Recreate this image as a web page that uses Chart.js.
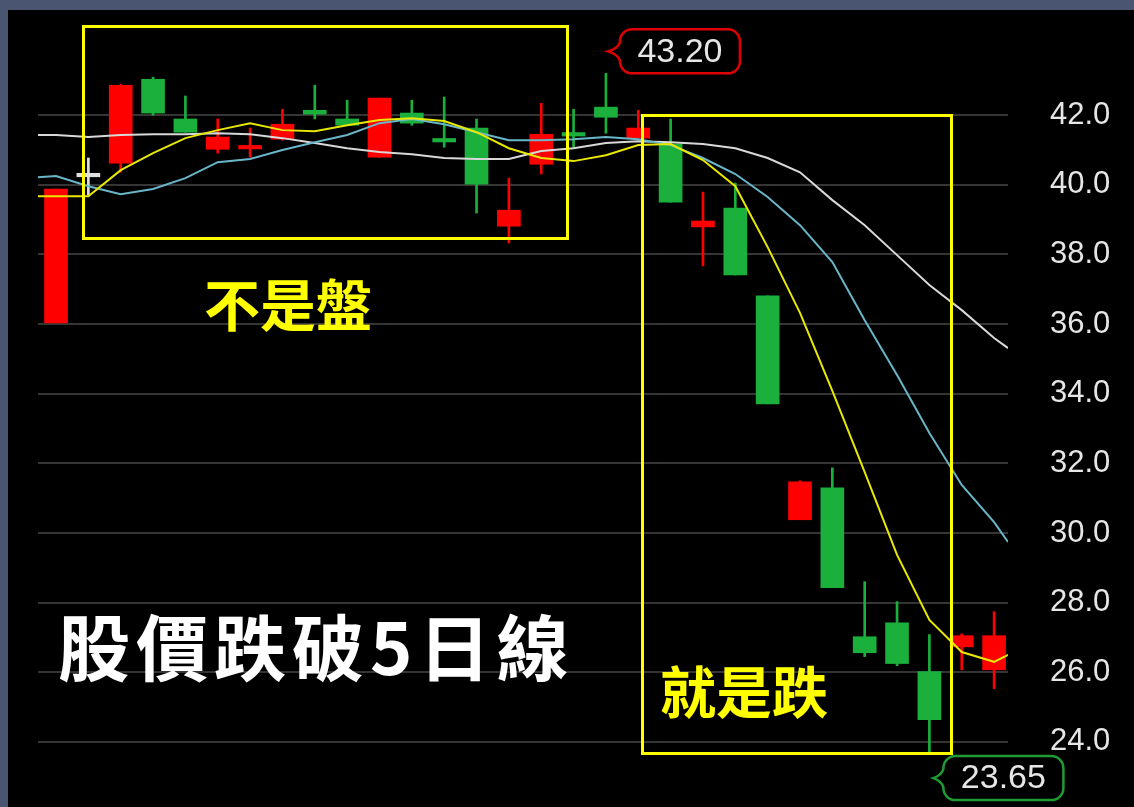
<!DOCTYPE html>
<html>
<head>
<meta charset="utf-8">
<script src="https://cdn.jsdelivr.net/npm/chart.js@4.4.1/dist/chart.umd.min.js"></script>
<style>
  html, body { margin: 0; padding: 0; background: #4a5671; }
  #wrap { position: absolute; left: 0; top: 0; width: 1134px; height: 807px; }
</style>
</head>
<body>
<div id="wrap"><canvas id="myChart"></canvas></div>
<script>
// daily candles, red = up, green = down (Taiwan colours)
const open  = [36.03, 40.28, 40.62, 43.03, 41.89, 41.02, 41.06, 41.31, 42.14, 41.89, 40.79, 42.06, 41.30, 41.63, 38.81, 40.59, 41.47, 42.23, 41.34, 41.17, 38.79, 39.33, 36.81, 30.38, 31.30, 27.02, 27.42, 26.02, 26.73, 26.07];
const close = [39.88, 40.28, 42.86, 42.06, 41.51, 41.37, 41.10, 41.74, 42.03, 41.71, 42.49, 41.77, 41.26, 40.02, 39.27, 41.45, 41.43, 41.94, 41.63, 39.50, 38.96, 37.41, 33.71, 31.47, 28.43, 26.56, 26.25, 24.64, 27.05, 27.05];
const high  = [39.88, 40.77, 42.89, 43.09, 42.55, 41.89, 41.63, 42.17, 42.86, 42.43, 42.49, 42.43, 42.52, 41.89, 40.19, 42.34, 42.17, 43.20, 42.14, 41.89, 39.79, 40.05, 36.81, 31.50, 31.87, 28.60, 28.03, 27.08, 27.10, 27.74];
const low   = [36.03, 39.70, 40.36, 42.00, 41.51, 40.91, 40.79, 41.28, 41.89, 41.71, 40.79, 41.71, 41.08, 39.19, 38.33, 40.31, 41.05, 41.48, 41.34, 39.50, 37.67, 37.41, 33.71, 30.38, 28.43, 26.45, 26.19, 23.65, 26.07, 25.53];

// moving averages, read at left edge, each candle, right edge
const ma5  = [39.67, 39.67, 39.67, 40.42, 40.91, 41.34, 41.57, 41.77, 41.57, 41.54, 41.71, 41.86, 41.91, 41.83, 41.51, 41.05, 40.77, 40.68, 40.85, 41.14, 41.17, 40.71, 39.96, 38.21, 36.32, 34.08, 31.75, 29.37, 27.50, 26.58, 26.30, 26.50];
const ma10 = [40.22, 40.25, 39.96, 39.73, 39.88, 40.19, 40.65, 40.74, 41.00, 41.22, 41.43, 41.77, 41.89, 41.74, 41.51, 41.28, 41.28, 41.31, 41.37, 41.31, 41.14, 40.77, 40.31, 39.65, 38.84, 37.78, 36.11, 34.54, 32.87, 31.38, 30.31, 29.74];
const ma20 = [41.43, 41.43, 41.37, 41.43, 41.45, 41.45, 41.48, 41.45, 41.34, 41.20, 41.05, 40.94, 40.88, 40.77, 40.74, 40.74, 40.97, 41.05, 41.20, 41.25, 41.22, 41.17, 41.05, 40.77, 40.36, 39.56, 38.84, 37.98, 37.12, 36.40, 35.60, 35.31];

const yTicks = [24, 26, 28, 30, 32, 34, 36, 38, 40, 42];
const xMin = -0.557, xMax = 29.43;
const yMin = 22.13, yMax = 45.02;

const days = open.map((v, i) => i);
const lineX = [xMin].concat(days, [xMax]);

const RED = "#ff0000", GREEN = "#1bb03c", WHITE = "#e0e0e0";
const candleColor = days.map(i => close[i] > open[i] ? RED : (close[i] < open[i] ? GREEN : WHITE));

// bodies: keep dojis visible as a thin bar
const bodies = days.map(i => {
  let a = Math.min(open[i], close[i]), b = Math.max(open[i], close[i]);
  if (b - a < 0.1) { const m = (a + b) / 2; a = m - 0.05; b = m + 0.05; }
  return { x: i, y: [a, b] };
});
const wicks = days.map(i => ({ x: i, y: [low[i], high[i]] }));

function maLine(arr, color, order) {
  return {
    type: "line",
    data: arr.map((v, i) => ({ x: lineX[i], y: v })),
    borderColor: color,
    borderWidth: 2,
    pointRadius: 0,
    tension: 0,
    order: order,
  };
}

function callout(ctx, tipX, tipY, bx, by, w, h, color, text) {
  const r = 12;
  ctx.save();
  ctx.beginPath();
  ctx.moveTo(bx + r, by);
  ctx.lineTo(bx + w - r, by);
  ctx.arcTo(bx + w, by, bx + w, by + r, r);
  ctx.lineTo(bx + w, by + h - r);
  ctx.arcTo(bx + w, by + h, bx + w - r, by + h, r);
  ctx.lineTo(bx + r, by + h);
  ctx.arcTo(bx, by + h, bx, by + h - r, r);
  ctx.lineTo(bx, tipY + 9);
  ctx.quadraticCurveTo(bx - 2, tipY + 3, tipX, tipY);
  ctx.quadraticCurveTo(bx - 2, tipY - 3, bx, tipY - 9);
  ctx.lineTo(bx, by + r);
  ctx.arcTo(bx, by, bx + r, by, r);
  ctx.closePath();
  ctx.fillStyle = "#000";
  ctx.fill();
  ctx.lineWidth = 2.5;
  ctx.strokeStyle = color;
  ctx.stroke();
  ctx.fillStyle = "#e6e6e6";
  ctx.font = '34px "Liberation Sans", Arial, sans-serif';
  ctx.textAlign = "center";
  ctx.textBaseline = "middle";
  ctx.fillText(text, bx + w / 2, by + h / 2 + 1);
  ctx.restore();
}

const decor = {
  id: "decor",
  beforeDraw(chart) {
    const ctx = chart.ctx;
    ctx.save();
    ctx.fillStyle = "#4a5671";
    ctx.fillRect(0, 0, chart.width, chart.height);
    ctx.fillStyle = "#000";
    ctx.fillRect(8, 10, chart.width - 8, chart.height - 10);
    ctx.restore();
  },
  afterDraw(chart) {
    const ctx = chart.ctx;
    const xs = chart.scales.x, ys = chart.scales.y;
    ctx.save();
    // yellow boxes
    ctx.strokeStyle = "#ffff00";
    ctx.lineWidth = 3;
    ctx.strokeRect(83.5, 26.5, 484, 212);
    ctx.strokeRect(642.5, 115.5, 309, 638);
    // texts
    ctx.textBaseline = "middle";
    ctx.textAlign = "left";
    ctx.fillStyle = "#ffff00";
    ctx.font = 'bold 56px "Noto Sans CJK TC", sans-serif';
    ctx.fillText("不是盤", 204, 305);
    ctx.fillText("就是跌", 660, 692);
    ctx.fillStyle = "#ffffff";
    ctx.font = 'bold 72px "Noto Sans CJK TC", sans-serif';
    ctx.letterSpacing = "6px";
    ctx.fillText("股價跌破5日線", 58, 648);
    ctx.letterSpacing = "0px";
    ctx.restore();

    // max / min callouts, anchored on the candles
    const hi = high.indexOf(Math.max(...high));
    const lo = low.indexOf(Math.min(...low));
    const hx = xs.getPixelForValue(hi), hy = ys.getPixelForValue(high[hi]);
    callout(ctx, hx + 2, hy - 22, hx + 14, hy - 44, 120, 44, "#e00000", high[hi].toFixed(2));
    const lx = xs.getPixelForValue(lo), ly = ys.getPixelForValue(low[lo]);
    callout(ctx, lx + 4, ly + 24, lx + 14, ly + 2, 120, 44, "#1f9a35", low[lo].toFixed(2));
  },
};

var ctx = document.getElementById("myChart");
var myChart = new Chart(ctx, {
  type: "bar",
  data: {
    datasets: [
      maLine(ma5, "#e8e800", 0),
      maLine(ma10, "#68b6c8", 0),
      maLine(ma20, "#d8d8d8", 0),
      {
        type: "bar",
        data: bodies,
        backgroundColor: candleColor,
        borderWidth: 0,
        barThickness: 23,
        grouped: false,
        order: 1,
      },
      {
        type: "bar",
        data: wicks,
        backgroundColor: candleColor,
        borderWidth: 0,
        barThickness: 2,
        grouped: false,
        order: 2,
      },
    ],
  },
  options: {
    responsive: true,
    maintainAspectRatio: false,
    animation: false,
    layout: { padding: { left: 38, top: 10, right: 0, bottom: 0 } },
    plugins: { legend: { display: false }, tooltip: { enabled: false } },
    scales: {
      x: {
        type: "linear",
        min: xMin,
        max: xMax,
        offset: false,
        display: false,
      },
      y: {
        position: "right",
        min: yMin,
        max: yMax,
        border: { display: false },
        grid: { color: "#353535", lineWidth: 2, drawTicks: false },
        afterBuildTicks: (scale) => { scale.ticks = yTicks.map(v => ({ value: v })); },
        afterFit: (scale) => {
          scale.width = 126;
          scale.paddingTop = 0;
          scale.paddingBottom = 0;
        },
        ticks: {
          padding: 42,
          color: "#e6e6e6",
          font: { family: '"Liberation Sans", Arial, sans-serif', size: 31 },
          callback: (v) => Number(v).toFixed(1),
        },
      },
    },
  },
  plugins: [decor],
});
</script>
</body>
</html>
